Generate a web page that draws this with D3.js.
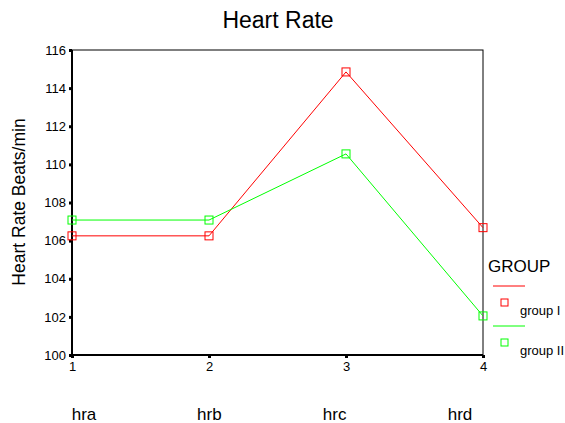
<!DOCTYPE html>
<html><head><meta charset="utf-8">
<script src="https://cdn.jsdelivr.net/npm/d3@7"></script>
<style>body{margin:0;background:#fff}svg{display:block;font-family:Arial,"Liberation Sans",sans-serif}</style>
</head><body>
<svg id="c" width="565" height="423"></svg>
<script>
const categories = ["hra","hrb","hrc","hrd"];
const xTicks = [1,2,3,4];
const yTicks = [100,102,104,106,108,110,112,114,116];
const groupI = [106.25,106.25,114.85,106.68];
const groupII = [107.08,107.08,110.55,102.05];
const seriesNames = ["group I","group II"];
const seriesColors = ["#ff0000","#00ff00"];

const svg = d3.select("#c");
const L=72,R=483,T=50,B=355;
const x = d3.scaleLinear().domain([1,4]).range([L,R]);
const y = d3.scaleLinear().domain([100,116]).range([B,T]);
const FF = "Arial,'Liberation Sans',sans-serif";

svg.append("text").attr("x",278).attr("y",28).attr("text-anchor","middle")
  .attr("font-size",23).text("Heart Rate");

// frame
svg.append("rect").attr("x",L).attr("y",T).attr("width",R-L).attr("height",B-T)
  .attr("fill","none").attr("stroke","#000").attr("stroke-width",1);
svg.append("line").attr("x1",L).attr("x2",L).attr("y1",T).attr("y2",B).attr("stroke","#000").attr("stroke-width",2);
svg.append("line").attr("x1",L).attr("x2",R).attr("y1",B).attr("y2",B).attr("stroke","#000").attr("stroke-width",2);

const yAxis = d3.axisLeft(y).tickValues(yTicks).tickSize(3).tickPadding(3).tickFormat(d3.format("d"));
const ga = svg.append("g").attr("transform",`translate(${L},0)`).call(yAxis);
ga.select(".domain").remove();
ga.selectAll(".tick line").attr("stroke-width",3);
ga.selectAll("text").attr("font-size",13).attr("fill","#000").attr("font-family",FF);

const xAxis = d3.axisBottom(x).tickValues(xTicks).tickSize(3).tickPadding(4).tickFormat(d3.format("d"));
const gx = svg.append("g").attr("transform",`translate(0,${B})`).call(xAxis);
gx.select(".domain").remove();
gx.selectAll(".tick line").attr("stroke-width",3);
gx.selectAll("text").attr("font-size",13).attr("fill","#000").attr("font-family",FF);

const cx = d3.scalePoint().domain(categories).range([84,460]);
svg.append("g").selectAll("text").data(categories).join("text")
  .attr("x",d=>cx(d)).attr("y",420).attr("text-anchor","middle").attr("font-size",17).text(d=>d);

svg.append("text").attr("transform","translate(25,202) rotate(-90)").attr("text-anchor","middle")
  .attr("font-size",17.5).text("Heart Rate Beats/min");

const line = d3.line().x((d,i)=>x(xTicks[i])).y(d=>y(d));
[groupI,groupII].forEach((s,k)=>{
  svg.append("path").attr("d",line(s)).attr("fill","none").attr("stroke",seriesColors[k]).attr("stroke-width",1);
  svg.append("g").selectAll("rect").data(s).join("rect")
    .attr("x",(d,i)=>x(xTicks[i])-4).attr("y",d=>y(d)-4).attr("width",8).attr("height",8)
    .attr("fill","none").attr("stroke",seriesColors[k]).attr("stroke-width",1);
});

// legend
svg.append("text").attr("x",488).attr("y",272).attr("font-size",17).text("GROUP");
seriesNames.forEach((n,k)=>{
  const oy = 286 + k*40;
  svg.append("line").attr("x1",493).attr("x2",525).attr("y1",oy).attr("y2",oy).attr("stroke",seriesColors[k]).attr("stroke-width",1);
  svg.append("rect").attr("x",501).attr("y",oy+13).attr("width",7).attr("height",7).attr("fill","none").attr("stroke",seriesColors[k]);
  svg.append("text").attr("x",520).attr("y",oy+29).attr("font-size",13).attr("fill","#000").text(n);
});
</script>
</body></html>
